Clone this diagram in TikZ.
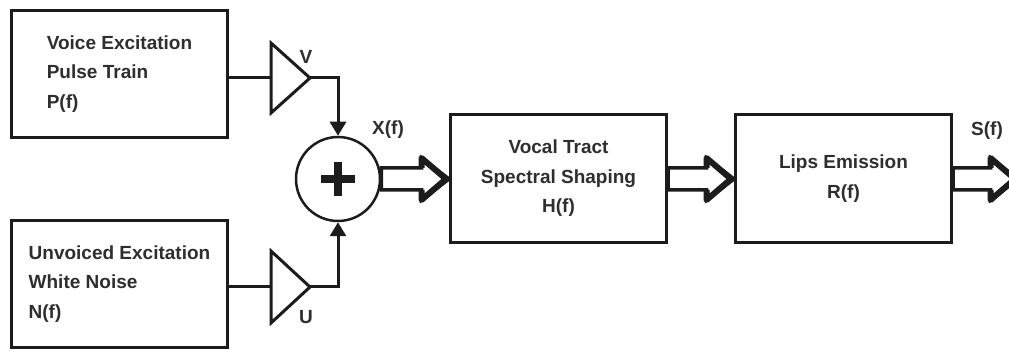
\documentclass[tikz,border=0pt]{standalone}
\usepackage{fontspec}
\setmainfont{Liberation Sans}
\usetikzlibrary{arrows.meta,calc}
\definecolor{ink}{HTML}{1C1C1C}
\definecolor{txt}{HTML}{2E2E2E}
\newcommand{\hollowarr}[2]{%
  \draw[shaftline] let \p1=(#1), \p2=(#2) in
    (\x1,\y1+11pt) -- (\x2-27.5pt,\y1+11pt) -- (\x2-27.5pt,\y1+21pt) -- (\x2,\y1)
    -- (\x2-27.5pt,\y1-21pt) -- (\x2-27.5pt,\y1-11pt) -- (\x1,\y1-11pt) -- cycle;
  \draw[headline] let \p1=(#1), \p2=(#2) in
    (\x2-27.5pt,\y1+11pt) -- (\x2-27.5pt,\y1+21pt) -- (\x2-3pt,\y1)
    -- (\x2-27.5pt,\y1-21pt) -- (\x2-27.5pt,\y1-11pt);
}
\begin{document}
\begin{tikzpicture}[x=1pt,y=-1pt,
  blk/.style={draw=ink, line width=3pt, minimum width=216pt, minimum height=127pt,
    inner sep=0pt, text=txt, font=\bfseries\fontsize{19}{29.5}\selectfont},
  lbl/.style={text=txt, inner sep=0pt, font=\bfseries\fontsize{19}{23}\selectfont},
  conn/.style={draw=ink, line width=3pt},
  gain/.style={draw=ink, line width=3pt, line join=miter},
  shaftline/.style={draw=ink, line width=3.5pt, line join=miter},
  headline/.style={draw=ink, line width=6pt, line join=round},
  tip/.style={-{Triangle[length=14pt,width=16pt]}}
]
\useasboundingbox (0,0) rectangle (1009,352);
\fill[white] (0,0) rectangle (1009,352);

% blocks
\node[blk, align=left] (voice) at (119.5,74) {Voice Excitation\\Pulse Train\\P(f)};
\node[blk, align=left] (noise) at (119.5,284) {Unvoiced Excitation\\White Noise\\N(f)};
\node[blk, align=center, minimum height=128pt] (tract) at (558.5,178.5) {Vocal Tract\\Spectral Shaping\\H(f)};
\node[blk, align=center, minimum height=128pt] (lips) at (843.5,178.5) {Lips Emission\\R(f)};

% summing junction
\node[draw=ink, circle, line width=2.5pt, minimum size=84pt, inner sep=0pt] (sum) at (338,179) {};
\draw[ink, line width=7.5pt] ([xshift=-17pt]sum.center) -- ([xshift=17pt]sum.center);
\draw[ink, line width=7.5pt] ([yshift=-17pt]sum.center) -- ([yshift=17pt]sum.center);

% gains
\coordinate (g1in) at (271,78);
\coordinate (g1out) at (310,78);
\coordinate (g2in) at (271,287);
\coordinate (g2out) at (310,287);
\draw[gain] (271,43) -- (g1out) -- (271,113) -- cycle;
\draw[gain] (271,251) -- (g2out) -- (271,323) -- cycle;

% connectors
\draw[conn] (g1in -| voice.east) -- (g1in);
\draw[conn] (g2in -| noise.east) -- (g2in);
\draw[conn, tip] (g1out) -| (sum.north);
\draw[conn, tip] (g2out) -| (sum.south);

% hollow arrows
\coordinate (a1s) at (sum.east);
\coordinate (a1e) at (tract.west |- sum.east);
\hollowarr{a1s}{a1e}
\coordinate (a2s) at (tract.east |- sum.east);
\coordinate (a2e) at (lips.west |- sum.east);
\hollowarr{a2s}{a2e}
\coordinate (a3s) at (lips.east |- sum.east);
\coordinate (a3e) at (1018,179);
\hollowarr{a3s}{a3e}

% labels
\node[lbl] (lv) at (306,57) {V};
\node[lbl] (lu) at (306,317) {U};
\node[lbl] (lx) at (388,130) {X(f)};
\node[lbl] (ls) at (987,131) {S(f)};
\end{tikzpicture}
\end{document}
